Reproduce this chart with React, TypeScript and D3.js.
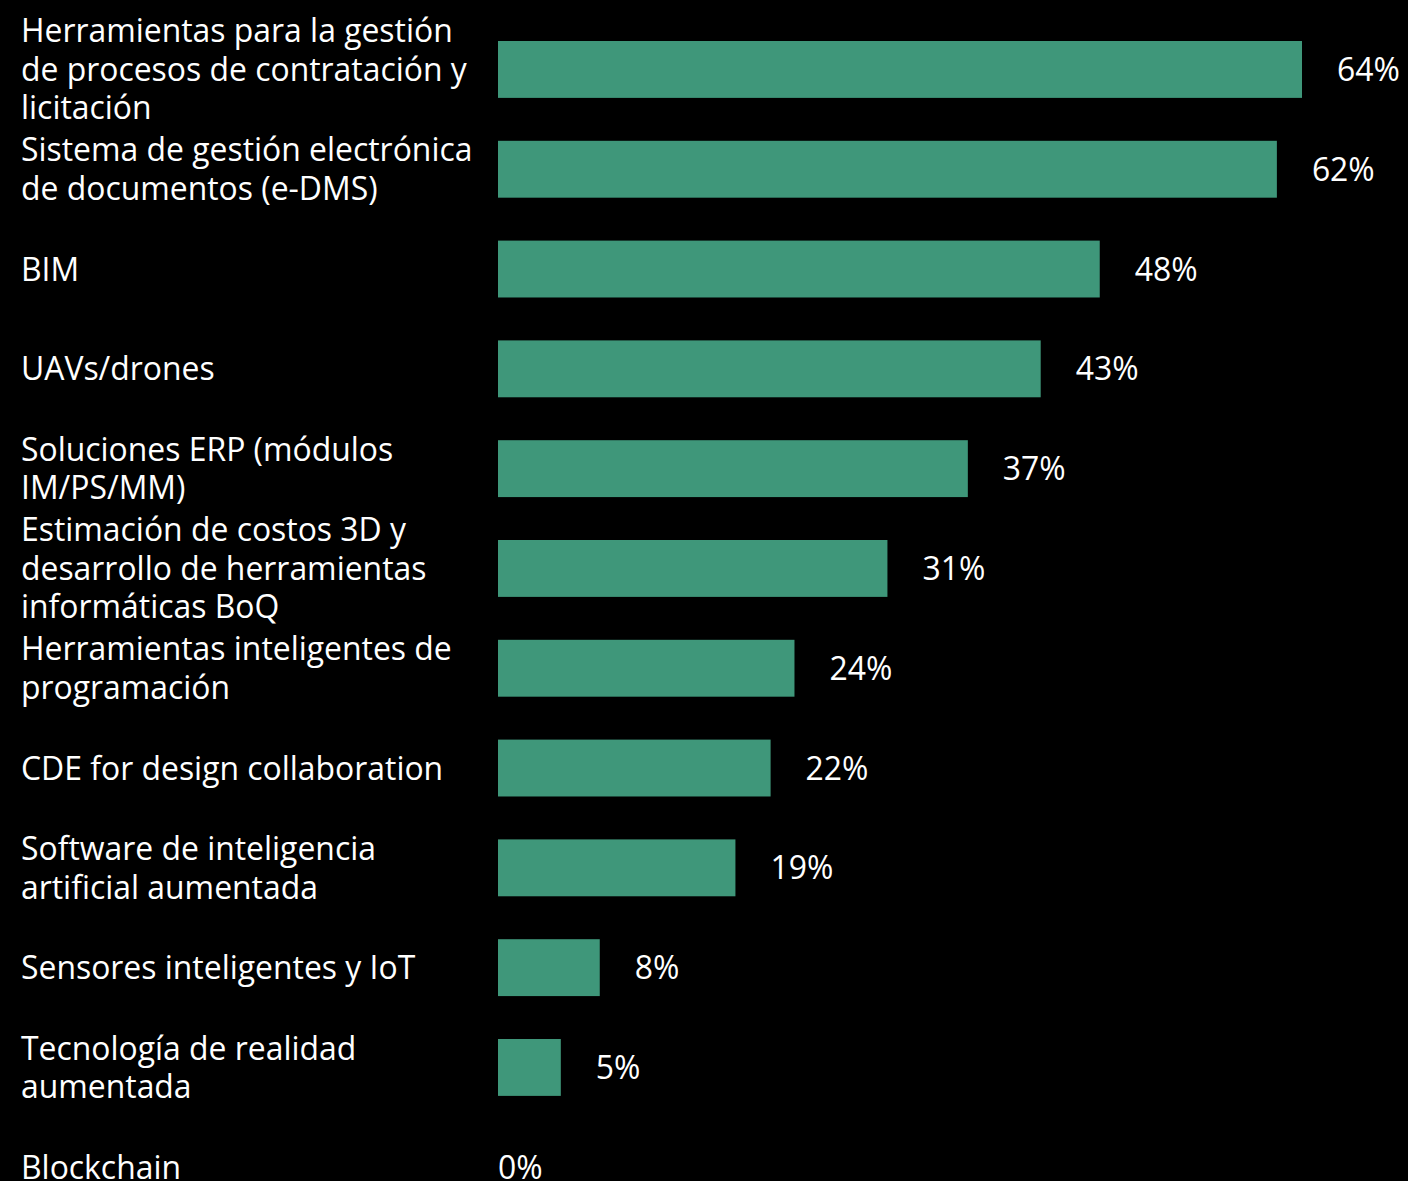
import React from "react";
import * as d3 from "d3";

const categories: string[] = [
  "Herramientas para la gestión\nde procesos de contratación y\nlicitación",
  "Sistema de gestión electrónica\nde documentos (e-DMS)",
  "BIM",
  "UAVs/drones",
  "Soluciones ERP (módulos\nIM/PS/MM)",
  "Estimación de costos 3D y\ndesarrollo de herramientas\ninformáticas BoQ",
  "Herramientas inteligentes de\nprogramación",
  "CDE for design collaboration",
  "Software de inteligencia\nartificial aumentada",
  "Sensores inteligentes y IoT",
  "Tecnología de realidad\naumentada",
  "Blockchain",
];

const values: number[] = [64, 62, 47.9, 43.2, 37.4, 31, 23.6, 21.7, 18.9, 8.1, 5, 0];
const valueLabels: string[] = ["64%", "62%", "48%", "43%", "37%", "31%", "24%", "22%", "19%", "8%", "5%", "0%"];

const W = 1408;
const H = 1181;
const FONT = "'Open Sans', sans-serif";
const FS = 31.9;
const LINE = 38.5;

export default function App() {
  const pad = 0.43;
  const step = 99.8;
  const y0 = 41 - pad * step;
  const y = d3
    .scaleBand<number>()
    .domain(categories.map((_, i) => i))
    .range([y0, y0 + step * (categories.length + pad)])
    .paddingInner(pad)
    .paddingOuter(pad);
  const x = d3.scaleLinear().domain([0, 64]).range([498, 1302]);

  return (
    <svg
      width={W}
      height={H}
      style={{ position: "absolute", left: 0, top: 0, display: "block", background: "#000" }}
    >
      <rect x={0} y={0} width={W} height={H} fill="#000" />
      {categories.map((c, i) => {
        const top = y(i) as number;
        const bw = y.bandwidth();
        const cy = top + bw / 2;
        const lines = c.split("\n");
        const v = values[i];
        const end = x(v);
        return (
          <g key={i}>
            {v > 0 && (
              <rect x={x(0)} y={top} width={end - x(0)} height={bw} fill="#3f977a" />
            )}
            <text
              x={21}
              y={cy - ((lines.length - 1) * LINE) / 2}
              fill="#fff"
              fontFamily={FONT}
              fontSize={FS}
            >
              {lines.map((l, j) => (
                <tspan key={j} x={21} dy={j === 0 ? "0.36em" : LINE}>
                  {l}
                </tspan>
              ))}
            </text>
            <text
              x={v > 0 ? end + 35 : end}
              y={cy}
              dy="0.36em"
              fill="#fff"
              fontFamily={FONT}
              fontSize={FS}
            >
              {valueLabels[i]}
            </text>
          </g>
        );
      })}
    </svg>
  );
}
